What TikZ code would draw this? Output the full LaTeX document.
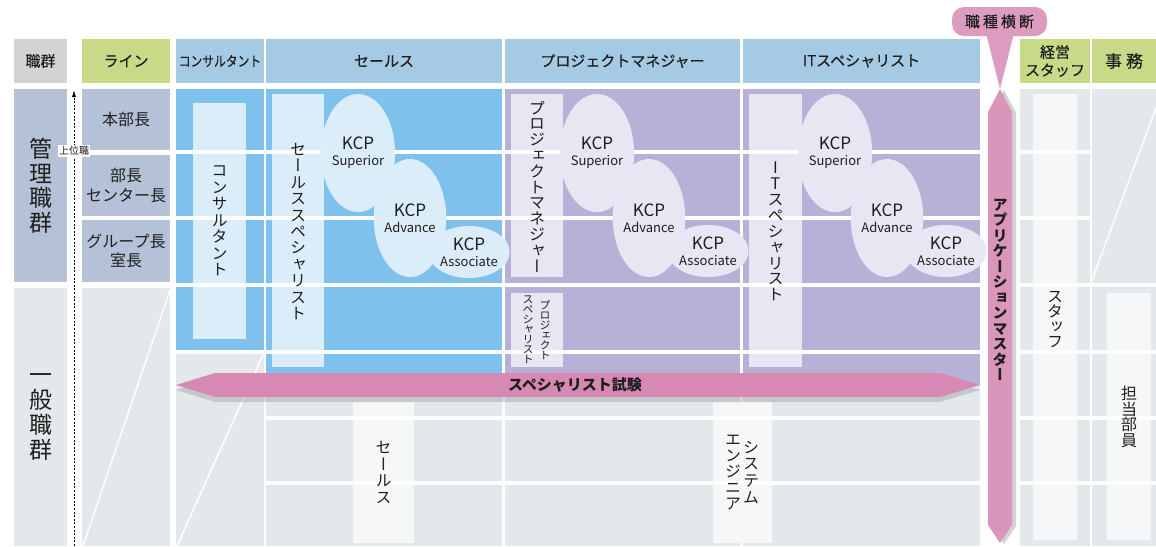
\documentclass[tikz,border=0pt]{standalone}
\usepackage{fontspec}
\usepackage{graphicx}
\setmainfont{Noto Sans CJK JP}
\newfontfamily\vjp[RawFeature=+vert]{Noto Sans CJK JP}
\newfontfamily\hjp[FakeBold=0.4]{Noto Sans CJK JP}
\usetikzlibrary{shapes.geometric,shadows,arrows.meta}
\definecolor{cHdrGray}{HTML}{D3D3D3}
\definecolor{cGreen}{HTML}{C8D987}
\definecolor{cHdrBlue}{HTML}{A4CAE4}
\definecolor{cBlue}{HTML}{7EC1ED}
\definecolor{cPurple}{HTML}{B8B1D7}
\definecolor{cLBlue}{HTML}{DCEDFA}
\definecolor{cLPurple}{HTML}{E9E6F3}
\definecolor{cGray}{HTML}{E3E8EB}
\definecolor{cKanri}{HTML}{B4C1D6}
\definecolor{cPale}{HTML}{F5F7F9}
\definecolor{cPink}{HTML}{D889B3}
\definecolor{cPinkV}{HTML}{D995BA}
\definecolor{cPinkC}{HTML}{DC9CBF}
\definecolor{txt}{HTML}{1E1E1E}
\def\vsend{\vsend}
\def\vstl#1{\ifx#1\vsend\else\hbox to 1em{\hss#1\hss}\expandafter\vstl\fi}
\newcommand\vt[4][]{\vbox{\fontsize{#2}{#3}\selectfont\vjp#1\vstl#4\vsend}}
\newcommand\kcpt[1]{{\fontsize{17}{18}\selectfont KCP}\\[-1pt]{\fontsize{13}{14}\selectfont #1}}
\begin{document}
\begin{tikzpicture}[x=1pt,y=-1pt,
  cell/.style={anchor=north west,inner sep=0pt,outer sep=0pt,align=center,text=txt},
  hd/.style={cell,minimum height=44pt,font=\hjp\fontsize{15}{18}\selectfont},
  box/.style={anchor=north west,inner sep=0pt,outer sep=0pt},
  lab/.style={inner sep=0pt,text=txt,align=center},
  wl/.style={white,line width=3.5pt},
  dl/.style={white,line width=1.5pt},
  kcp/.style={ellipse,inner sep=0pt,minimum width=61pt,minimum height=118pt,align=center,text=txt,font=\fontsize{13}{17}\selectfont},
  kcps/.style={kcp,minimum width=61pt,minimum height=52pt}]
\useasboundingbox (0,0) rectangle (1156,546);
\fill[white] (0,0) rectangle (1156,546);
% headers
\node[hd,fill=cHdrGray,minimum width=53pt] (hShoku) at (14,39) {職群};
\node[hd,fill=cGreen,minimum width=88pt] (hLine) at (82,39) {ライン};
\node[hd,fill=cHdrBlue,minimum width=88pt,font=\hjp\fontsize{14}{16}\selectfont] (hCons) at (176,39) {\scalebox{0.84}[1]{コンサルタント}};
\node[hd,fill=cHdrBlue,minimum width=236pt] (hSales) at (266,39) {セールス};
\node[hd,fill=cHdrBlue,minimum width=235pt] (hPM) at (505,39) {プロジェクトマネジャー};
\node[hd,fill=cHdrBlue,minimum width=237pt] (hIT) at (743,39) {ITスペシャリスト};
\node[hd,fill=cGreen,minimum width=70pt] (hStaff) at (1020,39) {経営\\スタッフ};
\node[hd,fill=cGreen,minimum width=64pt,font=\hjp\fontsize{17}{18}\selectfont] (hJimu) at (1092,39) {事\hspace{4pt}務};
% left columns
\node[cell,fill=cKanri,minimum width=53pt,minimum height=193pt] (kanri) at (14,89) {\vt{23}{24.5}{管理職群}};
\node[cell,fill=cGray,minimum width=53pt,minimum height=258pt] (ippan) at (14,288) {\vt{23}{25}{一般職群}};
\node[cell,fill=cKanri,minimum width=88pt,minimum height=61pt,font=\fontsize{16}{20}\selectfont] (r1) at (82,89) {本部長};
\node[cell,fill=cKanri,minimum width=88pt,minimum height=61pt,font=\fontsize{16}{20}\selectfont] (r2) at (82,155) {部長\\センター長};
\node[cell,fill=cKanri,minimum width=88pt,minimum height=62pt,font=\fontsize{16}{19}\selectfont] (r3) at (82,220) {グループ長\\室長};
\node[cell,fill=cGray,minimum width=88pt,minimum height=258pt] (lineGray) at (82,288) {};
\draw[dl] (170,290) -- (83,546);
% main coloured area
\fill[cGray] (176,352) rectangle (980,546);
\fill[cBlue] (176,89) rectangle (264,352);
\fill[cBlue] (266,89) rectangle (502,385);
\fill[cPurple] (505,89) rectangle (980,385);
\draw[white,line width=2pt] (265,89) -- (265,546);
\draw[white,line width=2.5pt] (503.5,89) -- (503.5,546);
\draw[white,line width=2.5pt] (741.5,89) -- (741.5,546);
% right columns
\node[cell,fill=cGray,minimum width=70pt,minimum height=457pt] (staffCol) at (1020,89) {};
\node[cell,fill=cGray,minimum width=64pt,minimum height=457pt] (jimuCol) at (1092,89) {};
% inner boxes
\node[box,fill=cLBlue,minimum width=53pt,minimum height=236pt] (consBox) at (193,103) {};
\node[box,fill=cLBlue,minimum width=52pt,minimum height=273pt] (salesSpBox) at (272,94) {};
\node[box,fill=cLPurple,minimum width=52pt,minimum height=183pt] (pmBox) at (511,94) {};
\node[box,fill=cLPurple,minimum width=52pt,minimum height=74pt] (pmSpBox) at (511,293) {};
\node[box,fill=cLPurple,minimum width=53pt,minimum height=273pt] (itBox) at (749,94) {};
\node[box,fill=cPale,minimum width=61pt,minimum height=141pt] (salesBox) at (353,402) {};
\node[box,fill=cPale,minimum width=59pt,minimum height=141pt] (seBox) at (713,402) {};
\node[box,fill=cPale,minimum width=44pt,minimum height=446pt] (staffBox) at (1033,94) {};
\node[box,fill=cPale,minimum width=44pt,minimum height=247pt] (jimuBox) at (1107,293) {};
% white grid lines
\foreach \yy in {152,218,285,352} {\draw[wl] (176,\yy) -- (980,\yy);}
\foreach \yy in {418,483} {\draw[wl] (264,\yy) -- (980,\yy);}
\foreach \yy in {152,218,285,352,418,483} {\draw[wl] (1020,\yy) -- (1090,\yy);}
\foreach \yy in {285,352,418,483} {\draw[wl] (1092,\yy) -- (1156,\yy);}
\draw[dl] (263,355) -- (177,546);
\draw[dl] (1156,108) -- (1092,280);
% ellipses
\node[kcp,fill=cLBlue] (sSup) at (358,153) {\kcpt{Superior}};
\node[kcp,fill=cLBlue] (sAdv) at (410,218) {\kcpt{Advance}};
\node[kcps,fill=cLBlue] (sAss) at (469,252) {\kcpt{Associate}};
\node[kcp,fill=cLPurple] (pSup) at (597,153) {\kcpt{Superior}};
\node[kcp,fill=cLPurple] (pAdv) at (649,218) {\kcpt{Advance}};
\node[kcps,fill=cLPurple] (pAss) at (708,251) {\kcpt{Associate}};
\node[kcp,fill=cLPurple] (iSup) at (835,153) {\kcpt{Superior}};
\node[kcp,fill=cLPurple] (iAdv) at (887,218) {\kcpt{Advance}};
\node[kcps,fill=cLPurple] (iAss) at (946,251) {\kcpt{Associate}};
% vertical texts
\node[lab] (consT) at (consBox.center) {\vt{16}{16.5}{コンサルタント}};
\node[lab] (salesSpT) at ([yshift=-1pt]salesSpBox.center) {\vt{16}{16.4}{セールススペシャリスト}};
\node[lab] (pmT) at ([yshift=-1pt]pmBox.center) {\vt{16}{15.8}{プロジェクトマネジャー}};
\node[lab] (pmSpT1) at ([xshift=8pt]pmSpBox.center) {\vt{11}{10}{プロジェクト}};
\node[lab] (pmSpT2) at ([xshift=-9pt]pmSpBox.center) {\vt{11}{10}{スペシャリスト}};
\node[lab] (itT) at ([yshift=-1pt]itBox.center) {\vt{16}{15.9}{ITスペシャリスト}};
\node[lab] (salesT) at (salesBox.center) {\vt{16}{16.8}{セールス}};
\node[lab] (seT1) at ([xshift=8.5pt]seBox.center) {\vt{16}{16.8}{システム}};
\node[lab] (seT2) at ([xshift=-9.5pt]seBox.center) {\vt{16}{16}{エンジニア}};
\node[lab] (staffT) at (1055,319) {\vt{16}{15}{スタッフ}};
\node[lab] (jimuT) at (1129,417) {\vt{16}{15.5}{担当部員}};
% upward dashed arrow
\coordinate (upB) at (74,546);
\coordinate (upT) at (74,90);
\draw[line width=0.8pt,dash pattern=on 2pt off 1.6pt,-{Latex[length=7pt,width=4pt]}] (upB) -- (upT);
\node[fill=white,inner sep=1pt,text=txt,font=\fontsize{10}{10}\selectfont] (joui) at (74,151) {上位職};
% specialist exam arrow
\fill[cPink,drop shadow={shadow xshift=0pt,shadow yshift=-5pt,opacity=0.3}] (176,385) -- (215,373) -- (940,373) -- (980,385) -- (940,397) -- (215,397) -- cycle;
\node[lab,font=\bfseries\fontsize{15}{15}\selectfont] (spexam) at (575,385) {スペシャリスト試験};
% application master arrow
\fill[cPinkV,drop shadow={shadow xshift=4pt,shadow yshift=-1pt,opacity=0.35}] (1000,89) -- (1012,112) -- (1012,525) -- (1000,543) -- (988,525) -- (988,112) -- cycle;
\node[lab] (appm) at (1000,290) {\vt[\bfseries]{15}{15.5}{アプリケーションマスター}};
% callout
\fill[cPinkC] (986,33) -- (1000,89) -- (1014,33) -- cycle;
\node[fill=cPinkC,rounded corners=12pt,minimum width=95pt,minimum height=29pt,inner sep=0pt,text=txt,font=\hjp\fontsize{15}{15}\selectfont] (cross) at (999.5,21.5) {職\hspace{3pt}種\hspace{3pt}横\hspace{3pt}断};
\end{tikzpicture}
\end{document}
